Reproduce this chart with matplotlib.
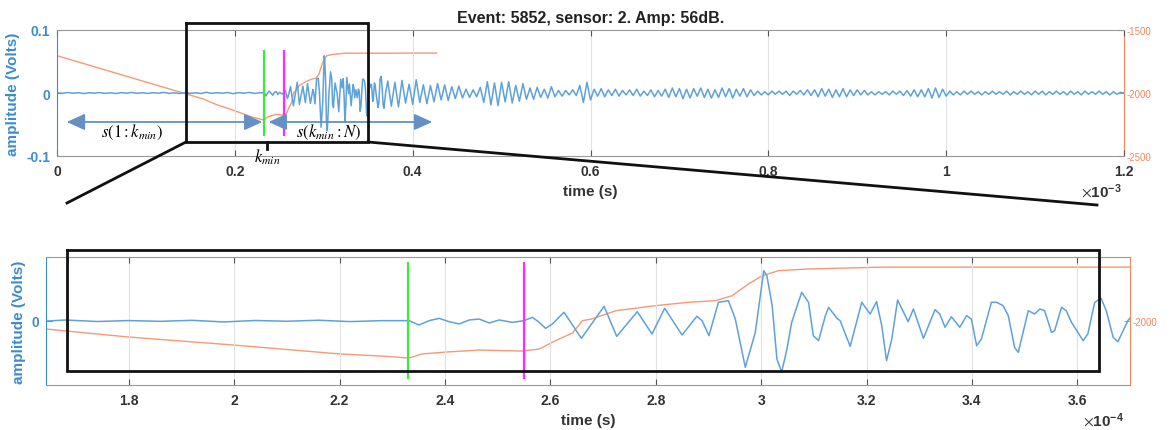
import numpy as np
import matplotlib.pyplot as plt
from matplotlib.lines import Line2D

plt.rcParams['font.family'] = ['Liberation Sans', 'DejaVu Sans']
plt.rcParams['mathtext.fontset'] = 'custom'
plt.rcParams['mathtext.rm'] = 'STIXGeneral'
plt.rcParams['mathtext.it'] = 'STIXGeneral:italic'
plt.rcParams['mathtext.bf'] = 'Liberation Sans:bold'

# --- signal (time in microseconds, amplitude in mV) ---
# pre-trigger noise, one value every 6 us
t_pre = np.arange(0, 233, 6)
v_pre = [0.3, -0.5, 0.8, -0.4, 0.6, -0.9, 0.5, -0.3, 0.7, -0.6, 0.4, -0.8, 0.6,
         -0.3, 0.9, -0.5, 0.4, -0.7, 0.5, -0.4, 1.0, -0.6, 0.3, -0.8, 0.7, -0.5,
         0.4, -0.9, 1.2, -0.6, 0.5, -0.4, 0.8, -1.1, 0.6, -0.3, 0.9, -0.7, 0.4]

# onset
t_onset = [233.2, 235.1, 237.0, 238.9, 240.8, 242.7, 244.6, 246.5, 248.4, 250.3,
           252.8, 255.0, 256.6, 257.9, 259.1, 260.4, 262.6, 265.9, 270.2, 272.6,
           276.5, 279.3, 281.7, 285.0, 287.8, 288.8, 290.1, 291.9, 293.8, 295.1,
           297.0, 298.9, 300.5, 301.1, 302.1, 303.0, 303.9, 304.9, 305.8, 307.7,
           309.0, 309.9, 310.9, 312.2, 312.8, 314.4, 315.0, 316.9, 319.1, 320.7,
           321.9, 322.9, 323.8, 324.8, 325.9, 327.9, 328.9, 330.8, 333.0, 333.9,
           334.9, 336.1, 337.7, 339.0, 339.9, 340.9, 341.8, 343.7, 344.7, 345.9,
           346.9, 348.1, 348.8, 350.7, 351.9, 352.9, 353.8, 355.1, 355.7, 357.0,
           357.9, 358.9, 360.1, 361.1, 362.0, 363.3, 364.5, 365.5, 366.8, 367.7,
           369.6]
v_onset = [0.4, -4.7, 0.4, 3.1, -0.8, -3.5, 1.2, 2.3, -2.3, 1.2,
           -1.6, 0.4, 4.3, -1.6, -8.6, -3.5, 10.2, -20.3, 17.2, -18.0,
           10.9, -15.2, 14.9, -16.4, 5.5, 0.4, -17.2, 21.9, 23.8, 2.3,
           -54.3, -13.3, 59.0, 53.0, 18.0, -44.5, -60.0, -32.8, -1.6, 33.6,
           21.9, -17.2, -23.0, 6.3, 16.0, 3.1, 0.4, -29.7, 21.9, 8.2,
           22.7, -5.5, -46.5, -21.1, 24.6, -0.8, 14.1, -20.3, 13.3, 8.2,
           -7.4, 5.0, -7.4, 6.3, 2.3, -29.0, -21.1, 21.9, 21.9, 18.0,
           6.3, -30.9, -36.7, 12.1, 8.2, 14.1, 12.1, -13.3, -11.3, 16.0,
           12.1, -1.6, -13.3, -23.0, -15.2, 21.9, 26.6, 12.1, -19.1, -24.3,
           0.4]

# coda, peaks and troughs every 4 us
t_coda = np.arange(372, 1201, 4)
v_coda = [19, -21, 17, -22, 20, -16, 14, -18, 21, -15, 13, -17, 12, -14, 15, -11, 13, -12, 10, -9,
          11, -8, 6, -7, 5, -6, 9, -15, 18, -19, 16, -20, 17, -14, 18, -16, 12, -13, 15, -10,
          8, -10, 9, -7, 6, -8, 10, -6, 4, -5, 4, -3, 5, -4, 12, -15, 17, -11, 6, -5,
          7, -6, 5, -4, 6, -5, 4, -3, 5, -4, 6, -5, 3, -4, 5, -6, 4, -5, 6, -7,
          8, -6, 7, -9, 6, -8, 7, -5, 8, -7, 6, -8, 5, -7, 8, -6, 7, -8, 6, -5,
          7, -6, 5, -4, 3, -3, 2, -3, 3, -2, 3, -2, 3, -4, 3, -2, 4, -3, 5, -4,
          5, -6, 7, -5, 6, -7, 5, -6, 7, -6, 5, -4, 5, -3, 4, -3, 2, -3, 2, -2,
          2, -3, 3, -2, 3, -4, 4, -5, 5, -6, 5, -6, 7, -8, 8, -7, 6, -5, 3, -3,
          2, -3, 3, -2, 3, -2, 2, -3, 2, -2, 3, -2, 2, -2, 3, -3, 2, -2, 3, -2,
          2, -3, 3, -2, 3, -3, 2, -2, 3, -2, 2, -3, 3, -2, 2, -3, 3, -2, 2, -2,
          3, -2, 2, -3, 2, -2, 1, 0]

# picker curve (right axis)
t_aic = [1, 164.3, 180, 200, 220, 227.6, 233.2, 235.7, 240.2, 246.5, 254.6, 257.9,
         261.0, 264.2, 266.1, 267.9, 272.4, 280.0, 286.3, 291.3, 294.5, 297.6,
         300.2, 303.3, 309.0, 323.6, 369.6, 427]
v_aic = [-1706, -2047, -2094, -2141, -2193, -2205, -2217, -2193, -2182, -2170, -2176, -2164,
         -2115, -2070, -1998, -1988, -1940, -1910, -1890, -1881, -1852, -1783,
         -1735, -1705, -1695, -1684, -1684, -1683]

k_min = 233.0   # us
t_pick = 255.0  # us

top_ticks = [0, 0.2, 0.4, 0.6, 0.8, 1, 1.2]          # x 1e-3 s
bot_ticks = [1.8, 2, 2.2, 2.4, 2.6, 2.8, 3, 3.2, 3.4, 3.6]  # x 1e-4 s

BLUE = '#5ea2d8'
BLUE_AX = '#3d8ccb'
ORANGE = '#f39a78'
ORANGE_AX = '#ec8a60'
GREEN = '#3ee83e'
MAGENTA = '#ff2cff'
ARROW = '#6490c4'
GRAY = '#999999'

W, H = 1173, 431
fig = plt.figure(figsize=(W / 100, H / 100), dpi=100)

t_sig = np.concatenate([t_pre, t_onset, t_coda]) * 1e-6
v_sig = np.concatenate([v_pre, v_onset, v_coda]) * 1e-3
t_a = np.array(t_aic) * 1e-6


def panel(rect, xlim, ticks, scale, ylim, yticks, ylim_r, yticks_r):
    ax = fig.add_axes(rect)
    axr = ax.twinx()
    ax.set_zorder(axr.get_zorder() + 1)
    ax.patch.set_visible(False)

    axr.plot(t_a, v_aic, color=ORANGE, lw=1.0)
    ax.plot(t_sig, v_sig, color=BLUE, lw=1.1)
    ax.vlines([k_min * 1e-6], -0.068, 0.069, color=GREEN, lw=1.6)
    ax.vlines([t_pick * 1e-6], -0.068, 0.069, color=MAGENTA, lw=1.6)

    ax.set_xlim(xlim)
    ax.set_xticks([v * scale for v in ticks])
    ax.set_xticklabels(['%g' % v for v in ticks])
    ax.set_ylim(ylim)
    ax.set_yticks(yticks)
    ax.set_yticklabels(['%g' % v for v in yticks])
    axr.set_ylim(ylim_r)
    axr.set_yticks(yticks_r)
    axr.set_yticklabels(['%d' % v for v in yticks_r])

    ax.grid(axis='x', color='#e2e2e2', lw=0.8)
    ax.tick_params(axis='x', direction='in', length=4, color='#555555', top=True,
                   pad=6, labelsize=10, labelcolor='#333333')
    ax.tick_params(axis='y', direction='in', length=4, color=BLUE_AX, pad=5,
                   labelsize=10, labelcolor=BLUE_AX)
    axr.tick_params(axis='y', direction='in', length=4, color=ORANGE_AX, pad=2,
                    labelsize=7, labelcolor=ORANGE_AX)
    for lab in ax.get_xticklabels() + ax.get_yticklabels():
        lab.set_fontweight('bold')

    for s in ('top', 'bottom'):
        ax.spines[s].set_color(GRAY)
        axr.spines[s].set_visible(False)
    ax.spines['left'].set_color(BLUE_AX)
    ax.spines['right'].set_visible(False)
    axr.spines['left'].set_visible(False)
    axr.spines['right'].set_color(ORANGE_AX)

    ax.set_xlabel('time (s)', fontsize=11, fontweight='bold', color='#333333', labelpad=4)
    ax.set_ylabel('amplitude (Volts)', fontsize=11, fontweight='bold', color=BLUE_AX, labelpad=4)
    return ax, axr


ax1, ax1r = panel([57 / W, 1 - 157 / H, 1067 / W, 126 / H], (0, 1.2e-3), top_ticks, 1e-3,
                  (-0.1, 0.1), [-0.1, 0, 0.1], (-2500, -1500), [-2500, -2000, -1500])
ax1.set_title('Event: 5852, sensor: 2. Amp: 56dB.', fontsize=11.5, fontweight='bold',
              color='#222222', pad=6)

ax2, ax2r = panel([46 / W, 1 - 386 / H, 1084 / W, 128 / H], (164.3e-6, 370e-6), bot_ticks, 1e-4,
                  (-0.075, 0.075), [0], (-2375, -1625), [-2000])

# axis multipliers, placed as MATLAB does below the right end of the axis
fig.text(1122 / W, 1 - 198 / H, r'$\times\mathbf{10^{-3}}$', ha='right', va='baseline',
         fontsize=11, color='#333333')
fig.text(1124 / W, 1 - 427 / H, r'$\times\mathbf{10^{-4}}$', ha='right', va='baseline',
         fontsize=11, color='#333333')

# segment arrows on the top panel
arrow_style = '<|-|>,head_length=1.1,head_width=0.5'
for x0, x1 in [(11, 231), (238, 422)]:
    ax1.annotate('', xy=(x0 * 1e-6, -0.046), xytext=(x1 * 1e-6, -0.046),
                 arrowprops=dict(arrowstyle=arrow_style, color=ARROW, lw=1.3,
                                 shrinkA=0, shrinkB=0),
                 annotation_clip=False)
ax1.text(84e-6, -0.061, r'$s(1{:}k_{min})$', ha='center', va='center', fontsize=12)
ax1.text(305e-6, -0.061, r'$s(k_{min}{:}N)$', ha='center', va='center', fontsize=12)
ax1.text(236e-6, -0.101, r'$k_{min}$', ha='center', va='center', fontsize=12, clip_on=False)


# zoom box and connectors (figure pixels)
def fig_line(xs, ys, lw=2.0):
    fig.add_artist(Line2D([x / W for x in xs], [1 - y / H for y in ys],
                          color='#111111', lw=lw, zorder=10, solid_joinstyle='miter'))


fig_line([186, 368, 368, 186, 186], [24, 24, 143, 143, 24])
fig_line([67, 1099, 1099, 67, 67], [251, 251, 372, 372, 251])
fig_line([186, 67], [143, 204])
fig_line([368, 1097], [143, 206])
fig_line([267, 267], [143, 150])

fig.savefig('out.png', dpi=100)
